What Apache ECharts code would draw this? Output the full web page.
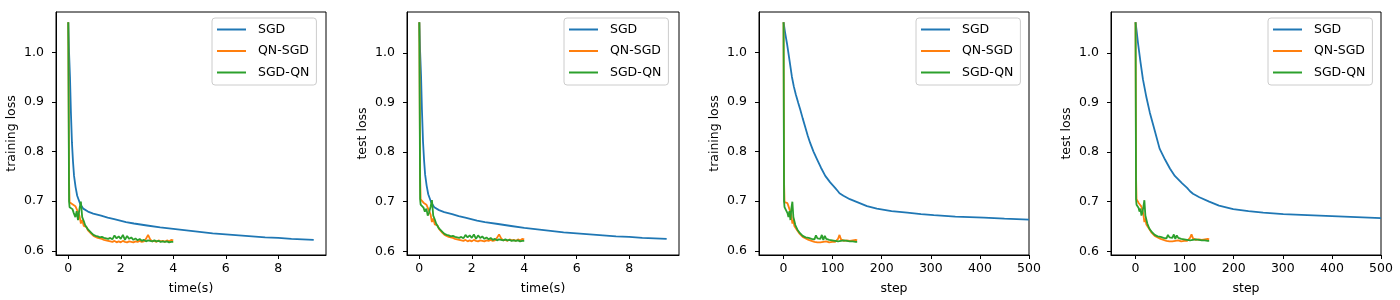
<!DOCTYPE html>
<html>
<head>
<meta charset="utf-8">
<script src="https://cdn.jsdelivr.net/npm/echarts@6/dist/echarts.min.js"></script>
<style>
html,body{margin:0;padding:0;background:#fff;}
#c{width:1400px;height:300px;}
</style>
</head>
<body>
<div id="c"></div>
<script>
// ---------- data ----------
const seriesNames = ['SGD', 'QN-SGD', 'SGD-QN'];
const yTicks = [0.6, 0.7, 0.8, 0.9, 1.0];
const timeTicks = [0, 2, 4, 6, 8];
const stepTicks = [0, 100, 200, 300, 400, 500];

// SGD vs time (training)
const sgdTrainTime = [0, 0.03, 0.065, 0.1, 0.14, 0.18, 0.22, 0.28, 0.34, 0.45, 0.57, 0.75, 0.95, 1.25, 1.5, 1.75, 2.2, 2.5, 3, 3.5, 4, 4.5, 5, 5.5, 6, 6.5, 7, 7.5, 8, 8.5, 9.35];
const sgdTrainTimeVal = [1.061, 1.0, 0.951, 0.88, 0.818, 0.78, 0.751, 0.728, 0.711, 0.695, 0.685, 0.679, 0.675, 0.671, 0.667, 0.664, 0.658, 0.655, 0.651, 0.647, 0.644, 0.641, 0.638, 0.635, 0.633, 0.631, 0.629, 0.627, 0.626, 0.624, 0.622];
// SGD vs time (test)
const sgdTestTime = [0, 0.03, 0.065, 0.1, 0.14, 0.18, 0.22, 0.28, 0.34, 0.45, 0.57, 0.75, 0.95, 1.25, 1.5, 1.75, 2.2, 2.5, 3, 3.5, 4, 4.5, 5, 5.5, 6, 6.5, 7, 7.5, 8, 8.5, 9.43];
const sgdTestTimeVal = [1.062, 1.003, 0.955, 0.885, 0.822, 0.784, 0.755, 0.732, 0.715, 0.699, 0.689, 0.683, 0.679, 0.675, 0.671, 0.668, 0.662, 0.659, 0.655, 0.651, 0.647, 0.644, 0.641, 0.638, 0.636, 0.634, 0.632, 0.630, 0.629, 0.627, 0.625];
// SGD vs step (training)
const sgdTrainStep = [0, 3, 7, 12, 17, 21, 25, 30, 34, 39, 44, 49, 54, 61, 68, 76, 85, 95, 105, 110, 114, 122, 135, 150, 170, 190, 220, 252, 280, 306, 350, 408, 450, 500];
const sgdTrainStepVal = [1.061, 1.041, 1.018, 0.985, 0.951, 0.931, 0.915, 0.898, 0.885, 0.867, 0.850, 0.833, 0.818, 0.800, 0.785, 0.768, 0.751, 0.738, 0.727, 0.721, 0.716, 0.711, 0.704, 0.698, 0.690, 0.685, 0.680, 0.677, 0.674, 0.672, 0.669, 0.667, 0.665, 0.663];
// SGD vs step (test)
const sgdTestStep = [0, 2, 5, 10, 15, 22, 29, 35, 40, 49, 55, 60, 70, 80, 95, 105, 111, 117, 130, 150, 170, 199, 230, 260, 301, 350, 400, 450, 500];
const sgdTestStepVal = [1.062, 1.046, 1.02, 0.982, 0.947, 0.911, 0.88, 0.858, 0.84, 0.807, 0.795, 0.785, 0.767, 0.752, 0.737, 0.728, 0.721, 0.716, 0.709, 0.700, 0.692, 0.685, 0.681, 0.678, 0.675, 0.673, 0.671, 0.669, 0.667];

// quasi-Newton runs: step index and elapsed time of each recorded point
const qnStep = [0, 1, 2, 4, 6, 8, 10, 12, 14, 16, 18, 20, 22, 24, 26, 28, 30, 33, 36, 39, 42, 45, 48, 51, 54, 57, 60, 63, 66, 69, 72, 75, 78, 81, 84, 87, 90, 93, 96, 99, 102, 105, 108, 111, 114, 117, 120, 123, 126, 129, 132, 135, 138, 141, 144, 147, 150];
const qnTime = [0, 0.03, 0.05, 0.11, 0.16, 0.21, 0.27, 0.32, 0.37, 0.43, 0.48, 0.53, 0.59, 0.64, 0.69, 0.75, 0.80, 0.88, 0.96, 1.04, 1.12, 1.20, 1.28, 1.36, 1.44, 1.52, 1.60, 1.68, 1.76, 1.84, 1.92, 2.00, 2.08, 2.16, 2.24, 2.32, 2.40, 2.48, 2.56, 2.64, 2.72, 2.80, 2.88, 2.96, 3.04, 3.12, 3.20, 3.28, 3.36, 3.44, 3.52, 3.60, 3.68, 3.76, 3.84, 3.92, 4.00];

const qnsgdTrain = [1.061, 0.740, 0.698, 0.699, 0.694, 0.696, 0.690, 0.686, 0.678, 0.670, 0.655, 0.662, 0.650, 0.646, 0.648, 0.641, 0.644,
  0.634, 0.630, 0.628, 0.626, 0.625, 0.624, 0.622, 0.621, 0.620, 0.619,
  0.618, 0.620, 0.617, 0.619, 0.617, 0.620, 0.618, 0.617, 0.619, 0.618,
  0.617, 0.619, 0.618, 0.620, 0.618, 0.619, 0.624, 0.632, 0.623, 0.619,
  0.620, 0.618, 0.621, 0.619, 0.620, 0.618, 0.621, 0.619, 0.622, 0.621];
const sgdqnTrain = [1.061, 0.700, 0.688, 0.690, 0.684, 0.676, 0.668, 0.680, 0.662, 0.686, 0.699, 0.668, 0.660, 0.652, 0.648, 0.643, 0.640,
  0.636, 0.632, 0.630, 0.629, 0.627, 0.628, 0.626, 0.625, 0.624, 0.626,
  0.623, 0.631, 0.625, 0.629, 0.624, 0.632, 0.622, 0.630, 0.624, 0.627,
  0.622, 0.625, 0.621, 0.624, 0.620, 0.622, 0.619, 0.621, 0.620, 0.619,
  0.621, 0.619, 0.620, 0.618, 0.619, 0.618, 0.619, 0.617, 0.618, 0.618];
const qnsgdTest = [1.062, 0.750, 0.705, 0.703, 0.698, 0.700, 0.694, 0.690, 0.682, 0.674, 0.659, 0.666, 0.654, 0.650, 0.652, 0.645, 0.648,
  0.637, 0.633, 0.631, 0.629, 0.628, 0.627, 0.625, 0.624, 0.623, 0.622,
  0.621, 0.623, 0.620, 0.622, 0.620, 0.623, 0.621, 0.620, 0.622, 0.621,
  0.620, 0.622, 0.621, 0.623, 0.621, 0.622, 0.627, 0.634, 0.626, 0.622,
  0.623, 0.621, 0.624, 0.622, 0.623, 0.621, 0.624, 0.622, 0.625, 0.624];
const sgdqnTest = [1.062, 0.705, 0.694, 0.694, 0.688, 0.680, 0.686, 0.672, 0.678, 0.690, 0.703, 0.672, 0.664, 0.656, 0.652, 0.646, 0.643,
  0.639, 0.635, 0.633, 0.632, 0.630, 0.631, 0.629, 0.628, 0.627, 0.629,
  0.626, 0.633, 0.628, 0.632, 0.627, 0.634, 0.625, 0.632, 0.627, 0.630,
  0.625, 0.628, 0.624, 0.627, 0.623, 0.625, 0.622, 0.624, 0.623, 0.622,
  0.624, 0.622, 0.623, 0.621, 0.622, 0.621, 0.622, 0.620, 0.621, 0.621];

// ---------- chart ----------
const FONT = 'DejaVu Sans';
const FS = 12.5;
const colors = ['#1f77b4', '#ff7f0e', '#2ca02c'];
const zip = (xs, ys) => xs.map((x, i) => [x, ys[i]]);

const panels = [
  { left: 56, top: 12, width: 270, height: 245, xmin: -0.4675, xmax: 9.8175, xticks: timeTicks, xname: 'time(s)', yname: 'training loss', ymin: 0.5915, ymax: 1.0815,
    data: [zip(sgdTrainTime, sgdTrainTimeVal), zip(qnTime, qnsgdTrain), zip(qnTime, sgdqnTrain)], legendLeft: 212 },
  { left: 407, top: 12, width: 272, height: 245, xmin: -0.47, xmax: 9.9, xticks: timeTicks, xname: 'time(s)', yname: 'test loss', ymin: 0.5925, ymax: 1.0825,
    data: [zip(sgdTestTime, sgdTestTimeVal), zip(qnTime, qnsgdTest), zip(qnTime, sgdqnTest)], legendLeft: 564 },
  { left: 759, top: 12, width: 270, height: 245, xmin: -50, xmax: 500, xticks: stepTicks, xname: 'step', yname: 'training loss', ymin: 0.5915, ymax: 1.0815,
    data: [zip(sgdTrainStep, sgdTrainStepVal), zip(qnStep, qnsgdTrain), zip(qnStep, sgdqnTrain)], legendLeft: 916 },
  { left: 1111, top: 12, width: 270, height: 245, xmin: -50, xmax: 500, xticks: stepTicks, xname: 'step', yname: 'test loss', ymin: 0.5925, ymax: 1.0825,
    data: [zip(sgdTestStep, sgdTestStepVal), zip(qnStep, qnsgdTest), zip(qnStep, sgdqnTest)], legendLeft: 1268 }
];

const option = {
  animation: false,
  backgroundColor: '#fff',
  textStyle: { fontFamily: FONT },
  grid: [], xAxis: [], yAxis: [], series: [], legend: []
};

panels.forEach((p, i) => {
  option.grid.push({ left: p.left, top: p.top, width: p.width, height: p.height, show: true, borderColor: '#000', borderWidth: 1, backgroundColor: 'transparent', containLabel: false });
  option.xAxis.push({
    type: 'value', gridIndex: i, min: p.xmin, max: p.xmax,
    name: p.xname, nameLocation: 'middle', nameGap: 27,
    nameTextStyle: { color: '#000', fontSize: FS, fontFamily: FONT },
    axisLine: { show: true, onZero: false, lineStyle: { color: '#000', width: 1 } },
    axisTick: { show: true, length: 4, lineStyle: { color: '#000' }, customValues: p.xticks },
    axisLabel: { color: '#000', fontSize: FS, fontFamily: FONT, margin: 7, customValues: p.xticks },
    splitLine: { show: false }
  });
  option.yAxis.push({
    type: 'value', gridIndex: i, min: p.ymin, max: p.ymax,
    name: p.yname, nameLocation: 'middle', nameGap: 38, nameRotate: 90,
    nameTextStyle: { color: '#000', fontSize: FS, fontFamily: FONT },
    axisLine: { show: true, onZero: false, lineStyle: { color: '#000', width: 1 } },
    axisTick: { show: true, length: 4, lineStyle: { color: '#000' }, customValues: yTicks },
    axisLabel: { color: '#000', fontSize: FS, fontFamily: FONT, margin: 12, customValues: yTicks, formatter: v => v.toFixed(1) },
    splitLine: { show: false }
  });
  p.data.forEach((d, k) => {
    option.series.push({
      name: seriesNames[k], type: 'line', xAxisIndex: i, yAxisIndex: i,
      data: d, showSymbol: false, symbol: 'none', clip: true,
      lineStyle: { color: colors[k], width: 1.8 }, itemStyle: { color: colors[k] },
      z: 2 + k
    });
  });
  option.legend.push({
    data: seriesNames, orient: 'vertical', left: p.legendLeft, top: 18,
    icon: 'rect', itemWidth: 29, itemHeight: 2, itemGap: 8.5,
    padding: [5, 7, 6, 5],
    borderColor: '#cccccc', borderWidth: 1, borderRadius: 3,
    backgroundColor: 'rgba(255,255,255,0.8)',
    textStyle: { color: '#000', fontSize: FS, fontFamily: FONT, padding: [0, 0, 0, 7], lineHeight: 13 },
    selectedMode: false
  });
});

const chart = echarts.init(document.getElementById('c'), null, { renderer: 'canvas' });
chart.setOption(option);
</script>
</body>
</html>
